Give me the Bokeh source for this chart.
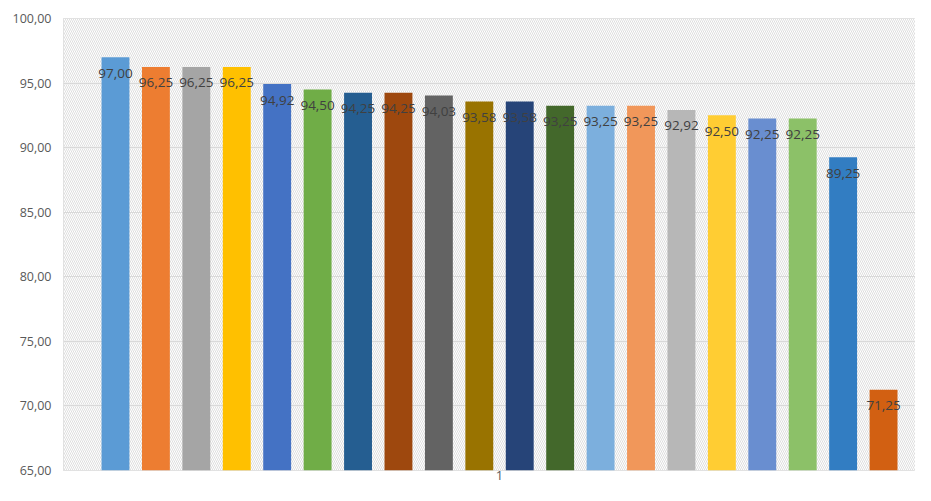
from bokeh.plotting import figure
from bokeh.models import ColumnDataSource, Range1d, FixedTicker, BoxAnnotation
from bokeh.core.properties import value
from bokeh.embed import file_html
from bokeh.resources import INLINE

values = [97.00, 96.25, 96.25, 96.25, 94.92, 94.50, 94.25, 94.25, 94.03, 93.58,
          93.58, 93.25, 93.25, 93.25, 92.92, 92.50, 92.25, 92.25, 89.25, 71.25]
colors = ["#5B9BD5", "#ED7D31", "#A5A5A5", "#FFC000", "#4472C4", "#70AD47",
          "#255E91", "#9E480E", "#636363", "#997300", "#264478", "#43682B",
          "#7CAFDD", "#F1975A", "#B7B7B7", "#FFCD33", "#698ED0", "#8CC168",
          "#327DC2", "#D26012"]
y_ticks = [65, 70, 75, 80, 85, 90, 95, 100]
y_tick_labels = ["65,00", "70,00", "75,00", "80,00", "85,00", "90,00", "95,00", "100,00"]
category = "1"

idx = list(range(len(values)))
labels = [f"{v:.2f}".replace(".", ",") for v in values]
src = ColumnDataSource(dict(x=idx, top=values, color=colors, label=labels))

x0, x1 = -1.286, 19.79
p = figure(width=915, height=485, output_backend="svg", toolbar_location=None,
           x_range=Range1d(x0, x1), y_range=Range1d(65, 100),
           min_border_left=63, min_border_right=0, min_border_top=18, min_border_bottom=15)

p.add_layout(BoxAnnotation(left=x0, right=x1, bottom=65, top=100,
                           fill_color="white", fill_alpha=1.0, line_color=None,
                           hatch_pattern="\\", hatch_color="#dedede", hatch_scale=4,
                           hatch_weight=1, level="image"))

p.vbar(x="x", top="top", bottom=65, width=0.69, fill_color="color", line_color=None, source=src)
p.text(x="x", y="top", text="label", source=src, text_align="center", text_baseline="middle",
       y_offset=16, text_font=value("Open Sans"), text_font_size="13.5px", text_color="#404040")

p.outline_line_color = "#d9d9d9"
p.xgrid.visible = False
p.ygrid.grid_line_color = "#d9d9d9"
p.ygrid.ticker = FixedTicker(ticks=y_ticks)

p.yaxis.ticker = FixedTicker(ticks=y_ticks)
p.yaxis.major_label_overrides = dict(zip(y_ticks, y_tick_labels))
p.yaxis.axis_line_color = None
p.yaxis.major_tick_line_color = None
p.yaxis.minor_tick_line_color = None
p.yaxis.major_tick_out = 0
p.yaxis.major_label_standoff = 12
p.yaxis.major_label_text_font = "Open Sans"
p.yaxis.major_label_text_font_size = "12.5px"
p.yaxis.major_label_text_color = "#595959"

center = (len(values) - 1) / 2
p.xaxis.ticker = FixedTicker(ticks=[center])
p.xaxis.major_label_overrides = {center: category}
p.xaxis.axis_line_color = None
p.xaxis.major_tick_line_color = None
p.xaxis.minor_tick_line_color = None
p.xaxis.major_tick_out = 0
p.xaxis.major_label_standoff = 0
p.xaxis.major_label_text_font = "Open Sans"
p.xaxis.major_label_text_font_size = "13px"
p.xaxis.major_label_text_color = "#595959"

open("out.html", "w").write(file_html(p, INLINE))
